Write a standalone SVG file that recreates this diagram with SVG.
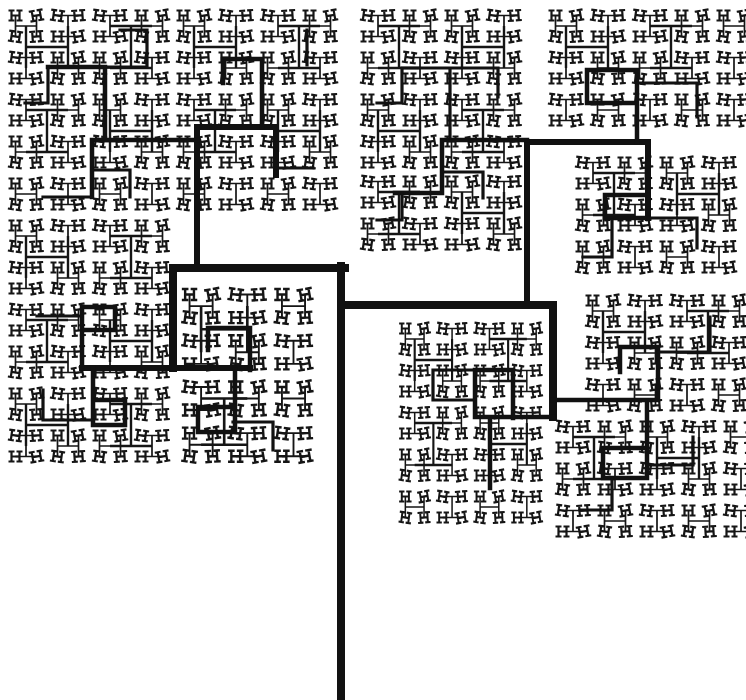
<svg xmlns="http://www.w3.org/2000/svg" xmlns:xlink="http://www.w3.org/1999/xlink" width="746" height="700" viewBox="0 0 746 700">
<style>
.gl{fill:none;stroke:#151515;stroke-width:2.2}
.c1{fill:none;stroke:#151515;stroke-width:1.7}
.c2{fill:none;stroke:#151515;stroke-width:2.4}
.t3{fill:none;stroke:#111;stroke-width:3.2;stroke-linecap:square}
.t5{fill:none;stroke:#111;stroke-width:4.5;stroke-linecap:square}
.t6{fill:none;stroke:#111;stroke-width:6;stroke-linecap:square}
.t8{fill:none;stroke:#111;stroke-width:8;stroke-linecap:square}
</style>
<defs>
<path id="g" class="gl" d="M-0.5,0.5H5.5M2.5,0.5V10.5M-0.5,10.5H5.5M7.5,0.5H13.5M10.5,0.5V10.5M7.5,10.5H13.5M2.5,5.5H10.5"/>
<use id="g2" xlink:href="#g" transform="rotate(-10 6.5 5.5)"/>
<use id="g3" xlink:href="#g" transform="rotate(8 6.5 5.5)"/>
<use id="g4" xlink:href="#g" transform="rotate(-4 6.5 5.5)"/>
<g id="u1">
<use xlink:href="#g" x="4" y="5"/><use xlink:href="#g2" x="25" y="5"/><use xlink:href="#g3" x="4" y="26"/><use xlink:href="#g4" x="25" y="26"/>
<path class="c1" d="M10.5,10.5V31.5M31.5,10.5V31.5M10.5,21H31.5"/>
</g>
<g id="u1v">
<use xlink:href="#g3" x="4" y="5"/><use xlink:href="#g4" x="25" y="5"/><use xlink:href="#g" x="4" y="26"/><use xlink:href="#g2" x="25" y="26"/>
<path class="c1" d="M10.5,10.5H31.5M10.5,31.5H31.5M21,10.5V31.5"/>
</g>
<g id="u2">
<use xlink:href="#u1"/><use xlink:href="#u1v" x="42"/><use xlink:href="#u1v" y="42"/><use xlink:href="#u1" x="42" y="42"/>
<path class="c2" d="M21,21V63M63,21V63M21,42H63"/>
</g>
<g id="u2b">
<use xlink:href="#u1v"/><use xlink:href="#u1" x="42"/><use xlink:href="#u1" y="42"/><use xlink:href="#u1v" x="42" y="42"/>
<path class="c2" d="M21,21H63M21,63H63M42,21V63"/>
</g>
</defs>
<rect width="746" height="700" fill="#fff"/>
<g id="canopy">
<use xlink:href="#u2" x="5" y="5"/><use xlink:href="#u2b" x="89" y="5"/><use xlink:href="#u2" x="173" y="5"/><use xlink:href="#u2b" x="257" y="5"/>
<use xlink:href="#u2b" x="5" y="89"/><use xlink:href="#u2" x="89" y="89"/><use xlink:href="#u2b" x="173" y="89"/><use xlink:href="#u2" x="257" y="89"/>
<use xlink:href="#u1" x="5" y="173"/><use xlink:href="#u1v" x="47" y="173"/><use xlink:href="#u1" x="89" y="173"/><use xlink:href="#u1v" x="131" y="173"/><use xlink:href="#u1" x="173" y="173"/><use xlink:href="#u1v" x="215" y="173"/><use xlink:href="#u1" x="257" y="173"/><use xlink:href="#u1v" x="299" y="173"/>
<use xlink:href="#u2" x="5" y="215"/><use xlink:href="#u2b" x="89" y="215"/><use xlink:href="#u2b" x="5" y="299"/><use xlink:href="#u2" x="89" y="299"/><use xlink:href="#u2" x="5" y="383"/><use xlink:href="#u2b" x="89" y="383"/>
<g transform="translate(178,283) scale(1.1)"><use xlink:href="#u2"/><use xlink:href="#u2b" y="84"/><use xlink:href="#u1" x="84"/><use xlink:href="#u1v" x="84" y="42"/><use xlink:href="#u1" x="84" y="84"/><use xlink:href="#u1v" x="84" y="126"/></g>
<use xlink:href="#u2b" x="357" y="5"/><use xlink:href="#u2" x="441" y="5"/><use xlink:href="#u2" x="357" y="89"/><use xlink:href="#u2b" x="441" y="89"/><use xlink:href="#u2b" x="357" y="171"/><use xlink:href="#u2" x="441" y="171"/>
<use xlink:href="#u2" x="545" y="5"/><use xlink:href="#u2b" x="629" y="5"/><use xlink:href="#u1" x="713" y="5"/><use xlink:href="#u1v" x="713" y="47"/>
<use xlink:href="#u1v" x="545" y="89"/><use xlink:href="#u1" x="587" y="89"/><use xlink:href="#u1v" x="629" y="89"/><use xlink:href="#u1" x="671" y="89"/><use xlink:href="#u1v" x="713" y="89"/>
<use xlink:href="#u2b" x="572" y="152"/><use xlink:href="#u2" x="656" y="152"/>
<use xlink:href="#u1" x="572" y="236"/><use xlink:href="#u1v" x="614" y="236"/><use xlink:href="#u1" x="656" y="236"/><use xlink:href="#u1v" x="698" y="236"/>
<use xlink:href="#u2" x="582" y="290"/><use xlink:href="#u2b" x="666" y="290"/>
<use xlink:href="#u1v" x="582" y="374"/><use xlink:href="#u1" x="624" y="374"/><use xlink:href="#u1v" x="666" y="374"/><use xlink:href="#u1" x="708" y="374"/>
<use xlink:href="#u2b" x="552" y="416"/><use xlink:href="#u2" x="636" y="416"/><use xlink:href="#u1" x="720" y="416"/><use xlink:href="#u1v" x="720" y="458"/>
<use xlink:href="#u1v" x="552" y="500"/><use xlink:href="#u1" x="594" y="500"/><use xlink:href="#u1v" x="636" y="500"/><use xlink:href="#u1" x="678" y="500"/><use xlink:href="#u1v" x="720" y="500"/>
<g transform="translate(396,318) scale(0.89,1)"><use xlink:href="#u2"/><use xlink:href="#u2b" x="84"/><use xlink:href="#u2b" y="84"/><use xlink:href="#u2" x="84" y="84"/><use xlink:href="#u1" y="168"/><use xlink:href="#u1v" x="42" y="168"/><use xlink:href="#u1" x="84" y="168"/><use xlink:href="#u1v" x="126" y="168"/></g>
</g>
<g id="branches">
<path class="t8" d="M341,697V266M345,268H173V368M341,305H553V417"/>
<path class="t6" d="M197,268V127H276V175M527,305V142H648V218M82,368H250"/>
<path class="t5" d="M197,140H92V197M553,417H475V370H513V418M527,140H442V193H395M553,400H658V347H620V372M262,127V59H223V83M105,140V67H48M82,368V307H115V330H82M93,368V425H125V400H93M235,370V432H198V407H235M250,370V328H208V350M490,418V488M647,400V478H603V448H647M648,218H605V195H648M637,142V70H587V103H637"/>
<path class="t3" d="M105,67H147V30H120M48,67V103H25M92,197H43M92,170H130V197M276,168H313M307,65V30M450,140V68H402V103H377M450,68H498V97M442,172H483V198M402,193V220H377M648,218H697V248M612,220V257H583M637,83H697V117M658,352H710V317M647,465H693V437M612,478V510H580M93,420H43V390M82,316H37M233,422H273V450M475,370H433V400H472"/>
</g>
</svg>
